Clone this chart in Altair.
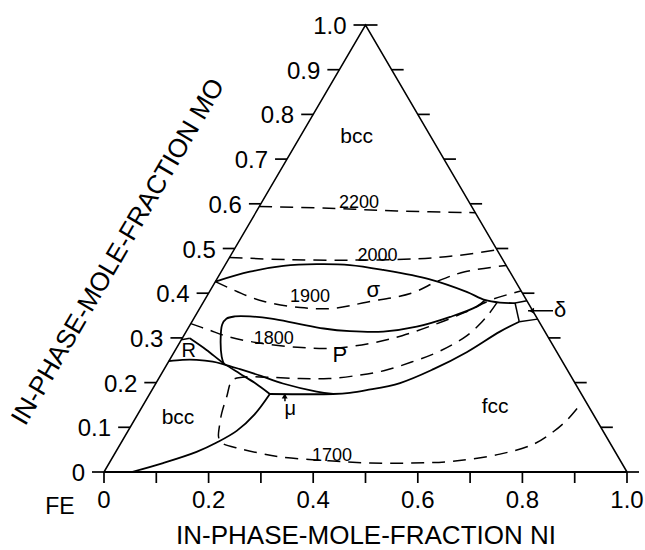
import altair as alt
import pandas as pd

W, H = 523, 447          # plot area (triangle base / height) in px
FONT = "Liberation Sans"

# ---------------- axis values ----------------
mo_ticks = [0.0, 0.1, 0.2, 0.3, 0.4, 0.5, 0.6, 0.7, 0.8, 0.9, 1.0]
mo_labels = ["0", "0.1", "0.2", "0.3", "0.4", "0.5", "0.6", "0.7", "0.8", "0.9", "1.0"]
ni_ticks = [0.0, 0.1, 0.2, 0.3, 0.4, 0.5, 0.6, 0.7, 0.8, 0.9, 1.0]
ni_label_vals = [0.0, 0.2, 0.4, 0.6, 0.8, 1.0]
ni_labels = ["0", "0.2", "0.4", "0.6", "0.8", "1.0"]

# ---------------- solid phase boundaries (mole fraction Ni, Mo) ----------------
sigma_top_ni = [0.000, 0.055, 0.1125, 0.1745, 0.2385, 0.308, 0.4075, 0.492, 0.5355, 0.5675, 0.597]
sigma_top_mo = [0.426, 0.448, 0.461, 0.465, 0.463, 0.452, 0.431, 0.403, 0.385, 0.379, 0.378]

p_top_ni = [0.108, 0.096, 0.0755, 0.061, 0.0625, 0.076, 0.105, 0.1485, 0.204, 0.2595, 0.3125, 0.377, 0.4355, 0.4885, 0.5276, 0.536]
p_top_mo = [0.242, 0.258, 0.295, 0.330, 0.343, 0.348, 0.348, 0.343, 0.332, 0.321, 0.315, 0.314, 0.325, 0.347, 0.370, 0.384]

fcc_ni = [0.626, 0.600, 0.5595, 0.515, 0.4665, 0.4105, 0.3815, 0.351, 0.2298]
fcc_mo = [0.336, 0.314, 0.268, 0.230, 0.199, 0.183, 0.177, 0.1745, 0.1745]

bcc_fcc_ni = [0.053, 0.103, 0.1545, 0.1825, 0.2077, 0.2235, 0.2298]
bcc_fcc_mo = [0.0, 0.020, 0.045, 0.066, 0.092, 0.129, 0.1745]

r_line_ni = [0.0145, 0.0595, 0.1075, 0.150, 0.191, 0.2298]
r_line_mo = [0.299, 0.273, 0.243, 0.220, 0.198, 0.1745]

r_stub_ni = [0.000, 0.0145]
r_stub_mo = [0.296, 0.299]

bcc_top_ni = [0.000, 0.0245, 0.0515, 0.0845, 0.1085, 0.145, 0.1925, 0.243, 0.3166, 0.351]
bcc_top_mo = [0.248, 0.251, 0.251, 0.247, 0.241, 0.230, 0.215, 0.198, 0.180, 0.1745]

delta_top_ni = [0.597, 0.617]
delta_top_mo = [0.378, 0.383]
delta_left_ni = [0.597, 0.626]
delta_left_mo = [0.378, 0.336]
delta_bot_ni = [0.626, 0.658]
delta_bot_mo = [0.336, 0.342]

# ---------------- isotherms (dashed) ----------------
iso2200_ni = [0.000, 0.135, 0.268, 0.420]
iso2200_mo = [0.594, 0.590, 0.584, 0.580]

iso2000_ni = [0.000, 0.1125, 0.240, 0.3615, 0.4375, 0.503]
iso2000_mo = [0.480, 0.475, 0.474, 0.477, 0.485, 0.497]

iso1900_ni = [0.000, 0.0745, 0.1175, 0.191, 0.2555, 0.312, 0.3875, 0.426, 0.466, 0.538]
iso1900_mo = [0.426, 0.395, 0.381, 0.368, 0.366, 0.380, 0.400, 0.428, 0.448, 0.462]

iso1800_ni = [0.000, 0.041, 0.089, 0.156, 0.2305, 0.3015, 0.366, 0.4175, 0.4655, 0.5115, 0.5475, 0.5945]
iso1800_mo = [0.332, 0.318, 0.302, 0.288, 0.279, 0.277, 0.288, 0.305, 0.329, 0.357, 0.385, 0.405]

iso1700_ni = [0.562, 0.5595, 0.5545, 0.5415, 0.5235, 0.498, 0.465, 0.426, 0.3815, 0.3255, 0.2705,
              0.205, 0.159, 0.1425, 0.1504, 0.1595, 0.170, 0.1795, 0.191, 0.234, 0.277, 0.319,
              0.4175, 0.499, 0.578, 0.654, 0.737, 0.790, 0.814, 0.827, 0.835]
iso1700_mo = [0.380, 0.357, 0.335, 0.305, 0.285, 0.264, 0.246, 0.228, 0.217, 0.209, 0.209,
              0.212, 0.212, 0.205, 0.1685, 0.131, 0.101, 0.079, 0.066, 0.052, 0.042, 0.034,
              0.025, 0.020, 0.020, 0.024, 0.040, 0.062, 0.090, 0.116, 0.150]

# ---------------- region / isotherm labels ----------------
label_text = ["bcc", "bcc", "fcc", "σ", "P", "μ", "R", "δ", "2200", "2000", "1900", "1800", "1700"]
label_ni = [0.108, 0.0815, 0.675, 0.3115, 0.320, 0.2855, 0.027, 0.691, 0.1865, 0.2815, 0.198, 0.176, 0.418]
label_mo = [0.750, 0.120, 0.146, 0.407, 0.262, 0.141, 0.2696, 0.362, 0.602, 0.483, 0.392, 0.2975, 0.0358]
label_size = [21, 21, 21, 22, 22, 20, 20, 22, 18, 18, 18, 18, 18]

# arrows (delta and mu)
arrow_ni = [0.6782, 0.6304, 0.267, 0.259]
arrow_mo = [0.3607, 0.3607, 0.158, 0.174]
arrow_id = ["d", "d", "m", "m"]
head_ni = [0.637, 0.2605]
head_mo = [0.3607, 0.170]
head_shape = ["triangle-left", "triangle-up"]


def curve(name, ni, mo):
    d = pd.DataFrame({"curve": name, "i": range(len(ni)), "ni": ni, "mo": mo})
    d["x"] = d["ni"] + d["mo"] / 2
    return d


solid = pd.concat([
    curve("sigma_top", sigma_top_ni, sigma_top_mo),
    curve("p_top", p_top_ni, p_top_mo),
    curve("fcc", fcc_ni, fcc_mo),
    curve("bcc_fcc", bcc_fcc_ni, bcc_fcc_mo),
    curve("r_line", r_line_ni, r_line_mo),
    curve("bcc_top", bcc_top_ni, bcc_top_mo),
])
straight = pd.concat([
    curve("r_stub", r_stub_ni, r_stub_mo),
    curve("d_top", delta_top_ni, delta_top_mo),
    curve("d_left", delta_left_ni, delta_left_mo),
    curve("d_bot", delta_bot_ni, delta_bot_mo),
])
dashed = pd.concat([
    curve("2200", iso2200_ni, iso2200_mo),
    curve("2000", iso2000_ni, iso2000_mo),
    curve("1900", iso1900_ni, iso1900_mo),
    curve("1800", iso1800_ni, iso1800_mo),
    curve("1700", iso1700_ni, iso1700_mo),
])
tri = curve("tri", [0, 0, 1], [0, 1, 0])

labels = pd.DataFrame({"t": label_text, "ni": label_ni, "mo": label_mo, "fs": label_size})
labels["x"] = labels["ni"] + labels["mo"] / 2
arrows = pd.DataFrame({"id": arrow_id, "ni": arrow_ni, "mo": arrow_mo})
arrows["x"] = arrows["ni"] + arrows["mo"] / 2
heads = pd.DataFrame({"ni": head_ni, "mo": head_mo, "shape": head_shape})
heads["x"] = heads["ni"] + heads["mo"] / 2

TL = 12  # side tick length (px)
left_ticks = pd.DataFrame({"y": mo_ticks})
left_ticks["x"] = left_ticks["y"] / 2
left_ticks["x2"] = left_ticks["x"] - TL / W
left_ticks["lab"] = mo_labels
right_ticks = pd.DataFrame({"y": mo_ticks})
right_ticks["x"] = 1 - right_ticks["y"] / 2
right_ticks["x2"] = right_ticks["x"] + TL / W
bottom_ticks = pd.DataFrame({"x": ni_ticks, "y": 0.0, "y2": -11 / H})
bottom_labels = pd.DataFrame({"x": ni_label_vals, "y": 0.0, "lab": ni_labels})

xs = alt.Scale(domain=[0, 1], nice=False, zero=False)
ys = alt.Scale(domain=[0, 1], nice=False, zero=False)
X = lambda f="x": alt.X(f"{f}:Q", scale=xs, axis=None)
Y = lambda f="mo": alt.Y(f"{f}:Q", scale=ys, axis=None)

triangle = alt.Chart(tri).mark_line(color="black", strokeWidth=1.5).encode(
    x=X(), y=Y(), order="i:Q")
base = alt.Chart(bottom_ticks.head(1)).mark_rule(color="black", strokeWidth=2).encode(
    x=alt.value(0), x2=alt.value(W), y=alt.Y("y:Q", scale=ys, axis=None))

lt = alt.Chart(left_ticks).mark_rule(color="black", strokeWidth=1.7).encode(
    x=X(), x2="x2:Q", y=alt.Y("y:Q", scale=ys, axis=None))
rt = alt.Chart(right_ticks).mark_rule(color="black", strokeWidth=1.7).encode(
    x=X(), x2="x2:Q", y=alt.Y("y:Q", scale=ys, axis=None))
bt = alt.Chart(bottom_ticks).mark_rule(color="black", strokeWidth=1.7).encode(
    x=X(), y=alt.Y("y:Q", scale=ys, axis=None), y2="y2:Q")
ltl = alt.Chart(left_ticks).mark_text(font=FONT, fontSize=24, align="right", baseline="middle",
                                      dx=-19, dy=2).encode(
    x=X(), y=alt.Y("y:Q", scale=ys, axis=None), text="lab:N")
btl = alt.Chart(bottom_labels).mark_text(font=FONT, fontSize=24, align="center", baseline="middle",
                                         dy=29).encode(
    x=X(), y=alt.Y("y:Q", scale=ys, axis=None), text="lab:N")

solid_l = alt.Chart(solid).mark_line(color="black", strokeWidth=1.8, interpolate="catmull-rom").encode(
    x=X(), y=Y(), detail="curve:N", order="i:Q")
straight_l = alt.Chart(straight).mark_line(color="black", strokeWidth=1.5).encode(
    x=X(), y=Y(), detail="curve:N", order="i:Q")
dashed_l = alt.Chart(dashed).mark_line(color="black", strokeWidth=1.5, strokeDash=[13, 8],
                                       interpolate="catmull-rom").encode(
    x=X(), y=Y(), detail="curve:N", order="i:Q")

lab_l = alt.Chart(labels).mark_text(font=FONT, align="center", baseline="middle", color="black").encode(
    x=X(), y=Y(), text="t:N", size=alt.Size("fs:Q", scale=None, legend=None))
arrow_l = alt.Chart(arrows).mark_line(color="black", strokeWidth=1.5).encode(
    x=X(), y=Y(), detail="id:N")
head_l = alt.Chart(heads).mark_point(filled=True, color="black", size=35, opacity=1).encode(
    x=X(), y=Y(), shape=alt.Shape("shape:N", scale=None, legend=None))

one = pd.DataFrame({"t": ["IN-PHASE-MOLE-FRACTION MO"]})
left_title = alt.Chart(one).mark_text(font=FONT, fontSize=26, angle=300.3, align="center",
                                      baseline="alphabetic").encode(
    text="t:N", x=alt.value(21), y=alt.value(231))
bottom_title = alt.Chart(pd.DataFrame({"t": ["IN-PHASE-MOLE-FRACTION NI"]})).mark_text(
    font=FONT, fontSize=26, align="center", baseline="alphabetic").encode(
    text="t:N", x=alt.value(262), y=alt.value(519))
fe = alt.Chart(pd.DataFrame({"t": ["FE"]})).mark_text(
    font=FONT, fontSize=23, align="center", baseline="middle").encode(
    text="t:N", x=alt.value(-44), y=alt.value(482))

chart = alt.layer(
    triangle, base, lt, rt, bt, ltl, btl, dashed_l, solid_l, straight_l,
    lab_l, arrow_l, head_l, left_title, bottom_title, fe
).properties(
    width=W, height=H,
    autosize=alt.AutoSizeParams(type="none"),
    padding={"left": 104, "top": 25, "right": 18, "bottom": 78},
    background="white",
).configure_view(stroke=None)

chart.save("out.html", embed_options={"renderer": "svg", "actions": False})
